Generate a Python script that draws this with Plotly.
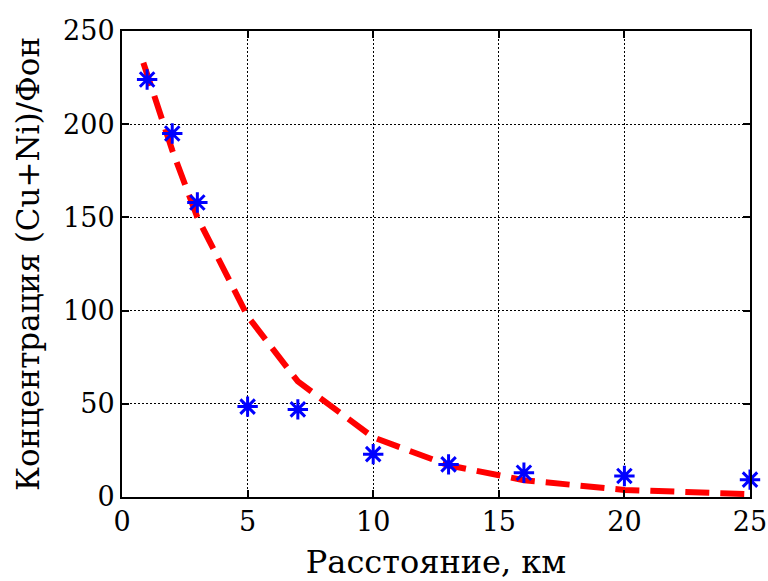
import plotly.graph_objects as go

# Measured data (distance, km; concentration ratio)
dist = [1, 2, 3, 5, 7, 10, 13, 16, 20, 25]
conc = [224, 195, 158, 48.5, 47, 23, 17.5, 13, 11.3, 9.3]

# Fitted curve values
fit_x = [0.85, 2, 3, 5, 7, 10, 13, 16, 20, 25]
fit_y = [233, 186, 150, 97, 62, 32, 17, 9, 3.8, 1.5]

x_ticks = [0, 5, 10, 15, 20, 25]
y_ticks = [0, 50, 100, 150, 200, 250]

FONT = "DejaVu Serif"

fig = go.Figure()
fig.add_trace(go.Scatter(
    x=fit_x, y=fit_y, mode="lines",
    line=dict(color="#ff0000", width=6, dash="24px,11px"),
    showlegend=False, cliponaxis=False,
))
fig.add_trace(go.Scatter(
    x=dist, y=conc, mode="markers",
    marker=dict(symbol="asterisk-open", size=17, color="#0000ff",
                line=dict(color="#0000ff", width=3)),
    showlegend=False, cliponaxis=False,
))

axis_common = dict(
    showgrid=True, gridcolor="black", gridwidth=1, griddash="2px,2px",
    showline=True, linecolor="black", linewidth=2, mirror="ticks",
    ticks="inside", ticklen=7, tickwidth=1.5, tickcolor="black",
    zeroline=False, automargin=False,
    tickfont=dict(family=FONT, size=27, color="black"),
)

fig.update_layout(
    width=768, height=581,
    margin=dict(l=122, r=18, t=31, b=84),
    paper_bgcolor="white", plot_bgcolor="white",
    font=dict(family=FONT, color="black"),
    xaxis=dict(range=[0, 25], tickvals=x_ticks,
               title=dict(text="Расстояние, км", font=dict(family=FONT, size=32), standoff=16),
               **axis_common),
    yaxis=dict(range=[0, 250], tickvals=y_ticks,
               title=dict(text="Концентрация (Cu+Ni)/Фон", font=dict(family=FONT, size=31), standoff=14),
               **axis_common),
)

fig.write_html("out.html")
